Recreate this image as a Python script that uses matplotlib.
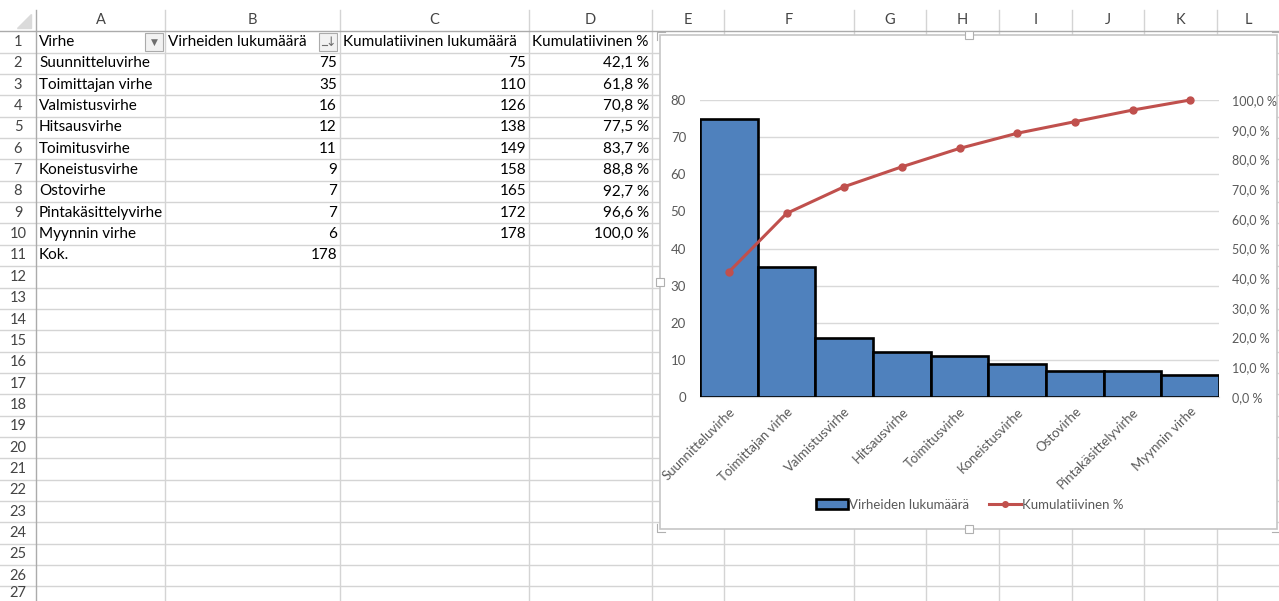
import matplotlib.pyplot as plt
from matplotlib.patches import Rectangle, Polygon, Patch
from matplotlib.lines import Line2D
from matplotlib.ticker import FuncFormatter, MultipleLocator

plt.rcParams['font.family'] = ['Lato', 'DejaVu Sans']

# sheet data
header = ["Virhe", "Virheiden lukumäärä", "Kumulatiivinen lukumäärä", "Kumulatiivinen %"]
virheet = ["Suunnitteluvirhe", "Toimittajan virhe", "Valmistusvirhe", "Hitsausvirhe",
           "Toimitusvirhe", "Koneistusvirhe", "Ostovirhe", "Pintakäsittelyvirhe",
           "Myynnin virhe"]
lukumaara = [75, 35, 16, 12, 11, 9, 7, 7, 6]
kumul_lkm = [75, 110, 126, 138, 149, 158, 165, 172, 178]
kumul_pct = [42.1, 61.8, 70.8, 77.5, 83.7, 88.8, 92.7, 96.6, 100.0]
total_label = "Kok."
total_value = 178

col_letters = list("ABCDEFGHIJKL")
col_edges = [36, 165, 340, 529, 652, 723.5, 854, 926, 999, 1072, 1144, 1217, 1279]

W, H = 1279, 601
BAR_BLUE = "#4F81BD"
LINE_RED = "#C0504D"
AXIS_GREY = "#595959"
GRID = "#D4D4D4"

fig = plt.figure(figsize=(W / 100, H / 100), dpi=100)
bg = fig.add_axes([0, 0, 1, 1])
bg.set_xlim(0, W)
bg.set_ylim(H, 0)
bg.axis("off")

# worksheet grid
head_top, head_bot = 10, 31.3
row_h = 21.35
n_rows = 27
row_top = [head_bot + i * row_h for i in range(n_rows + 1)]

for y in row_top[1:]:
    bg.plot([0, W], [y, y], color=GRID, lw=1, zorder=1)
for x in col_edges[1:-1]:
    bg.plot([x, x], [head_top, H], color=GRID, lw=1, zorder=1)
bg.plot([0, W], [head_bot, head_bot], color="#ABABAB", lw=1, zorder=1)
bg.plot([col_edges[0], col_edges[0]], [head_top, H], color="#ABABAB", lw=1, zorder=1)
bg.add_patch(Polygon([[31, 14], [31, 28], [17, 28]], closed=True,
                     color="#DADADA", zorder=1))

for i, letter in enumerate(col_letters):
    cx = (col_edges[i] + col_edges[i + 1]) / 2
    bg.text(cx, 20.5, letter, ha="center", va="center", fontsize=10.5,
            color="#444444")
for r in range(1, n_rows + 1):
    cy = (row_top[r - 1] + row_top[r]) / 2
    # last row is only partly visible at the bottom edge
    bg.text(18, min(cy, H - 8), str(r), ha="center", va="center", fontsize=10.5,
            color="#444444")


def cell_y(r):
    return (row_top[r - 1] + row_top[r]) / 2


txt = dict(va="center", fontsize=11, color="black")
# header row with filter / sort buttons
for i, h in enumerate(header):
    bg.text(col_edges[i] + 3, cell_y(1), h, ha="left", **txt)
for x0 in (145, 319):
    bg.add_patch(Rectangle((x0, 33), 18, 18, facecolor="#F2F2F2",
                           edgecolor="#ABABAB", lw=0.8, zorder=2))
bg.text(154, 42.5, "▼", ha="center", va="center", fontsize=6.5,
        color="#6E6E6E", family="DejaVu Sans", zorder=3)
bg.text(331, 42.5, "↓", ha="center", va="center", fontsize=9,
        color="#6E6E6E", family="DejaVu Sans", zorder=3)
bg.plot([322, 327], [45, 45], color="#6E6E6E", lw=0.8, zorder=3)

for k in range(len(virheet)):
    r = k + 2
    bg.text(col_edges[0] + 3, cell_y(r), virheet[k], ha="left", **txt)
    bg.text(col_edges[2] - 3, cell_y(r), str(lukumaara[k]), ha="right", **txt)
    bg.text(col_edges[3] - 3, cell_y(r), str(kumul_lkm[k]), ha="right", **txt)
    bg.text(col_edges[4] - 3, cell_y(r), f"{kumul_pct[k]:.1f} %".replace(".", ","),
            ha="right", **txt)
r_tot = len(virheet) + 2
bg.text(col_edges[0] + 3, cell_y(r_tot), total_label, ha="left", **txt)
bg.text(col_edges[2] - 3, cell_y(r_tot), str(total_value), ha="right", **txt)

# chart object frame
cx0, cy0, cx1, cy1 = 660, 35, 1277, 529
bg.add_patch(Rectangle((cx0, cy0), cx1 - cx0, cy1 - cy0, facecolor="white",
                       edgecolor="#C6C6C6", lw=1.2, zorder=5))
for hx, hy in [((cx0 + cx1) / 2, cy0), ((cx0 + cx1) / 2, cy1), (cx0, (cy0 + cy1) / 2)]:
    bg.add_patch(Rectangle((hx - 4, hy - 4), 8, 8, facecolor="white",
                           edgecolor="#B0B0B0", lw=0.8, zorder=6))
for hx, hy, sx, sy in [(cx0, cy0, 1, 1), (cx1, cy0, -1, 1), (cx0, cy1, 1, -1), (cx1, cy1, -1, -1)]:
    bg.plot([hx - 3 * sx, hx - 3 * sx, hx + 5 * sx], [hy + 5 * sy, hy - 3 * sy, hy - 3 * sy],
            color="#B0B0B0", lw=0.8, zorder=6)

# pareto chart
px0, px1, py_top, py_bot = 700, 1219, 100, 397
ax = fig.add_axes([px0 / W, (H - py_bot) / H, (px1 - px0) / W, (py_bot - py_top) / H])
ax.set_zorder(10)
ax.patch.set_visible(False)
pos = range(len(virheet))
ax.bar(pos, lukumaara, width=1.0, color=BAR_BLUE, edgecolor="black",
       linewidth=1.9, zorder=3)
ax.set_xlim(-0.5, len(virheet) - 0.5)
ax.set_ylim(0, 80)
ax.yaxis.set_major_locator(MultipleLocator(10))
ax.grid(axis="y", color="#D9D9D9", lw=1, zorder=0)
for s in ["top", "right", "left"]:
    ax.spines[s].set_visible(False)
ax.spines["bottom"].set_color("#D9D9D9")
ax.tick_params(axis="both", length=0, labelsize=9.5, labelcolor=AXIS_GREY)
ax.tick_params(axis="y", pad=10)
ax.set_xticks(list(pos))
ax.set_xticklabels(virheet, rotation=45, ha="right", rotation_mode="anchor")
ax.tick_params(axis="x", pad=6)

ax2 = ax.twinx()
ax2.plot(pos, [p / 100 for p in kumul_pct], color=LINE_RED, lw=2.2,
         marker="o", markersize=5, zorder=4, clip_on=False)
ax2.set_ylim(0, 1)
ax2.yaxis.set_major_locator(MultipleLocator(0.1))
ax2.yaxis.set_major_formatter(FuncFormatter(
    lambda v, _: f"{v * 100:.1f} %".replace(".", ",")))
for s in ax2.spines.values():
    s.set_visible(False)
ax2.tick_params(axis="y", length=0, labelsize=9, labelcolor=AXIS_GREY, pad=9)

handles = [Patch(facecolor=BAR_BLUE, edgecolor="black", linewidth=1.9),
           Line2D([], [], color=LINE_RED, lw=2.2, marker="o", markersize=4)]
leg = fig.legend(handles, ["Virheiden lukumäärä", "Kumulatiivinen %"],
                 loc="center", bbox_to_anchor=(970 / W, (H - 505) / H), ncol=2,
                 frameon=False, fontsize=9.5, handlelength=2.4, handleheight=0.8,
                 handletextpad=0.1, columnspacing=1.5)
for t in leg.get_texts():
    t.set_color(AXIS_GREY)
leg.set_zorder(11)

fig.savefig("out.png", dpi=100)
